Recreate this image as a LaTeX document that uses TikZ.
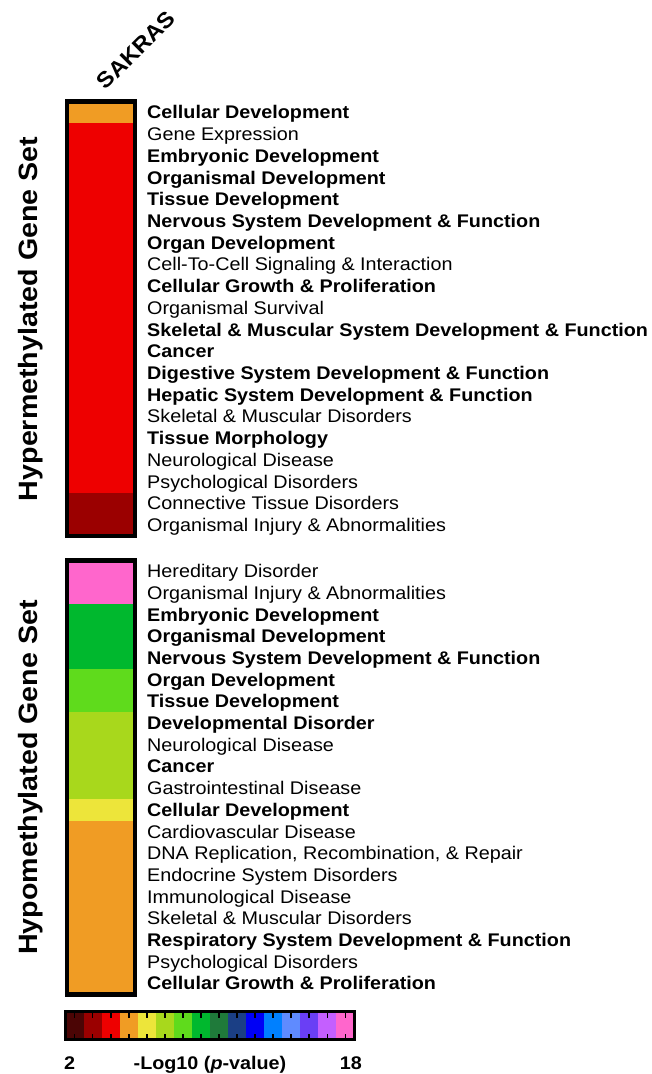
\documentclass[tikz,border=0pt]{standalone}
\usepackage{fontspec}
\setmainfont{Liberation Sans}[FakeStretch=1.08]
\usepackage{tikz}
\usetikzlibrary{calc,positioning}

\definecolor{v2}{HTML}{4B0505}
\definecolor{v3}{HTML}{9B0000}
\definecolor{v4}{HTML}{EE0000}
\definecolor{v5}{HTML}{F09C24}
\definecolor{v6}{HTML}{EDE53A}
\definecolor{v7}{HTML}{A8D81C}
\definecolor{v8}{HTML}{5FDB1C}
\definecolor{v9}{HTML}{00B82E}
\definecolor{v10}{HTML}{1F7A3A}
\definecolor{v11}{HTML}{1B3F85}
\definecolor{v12}{HTML}{0000F5}
\definecolor{v13}{HTML}{0080FF}
\definecolor{v14}{HTML}{5F8BFF}
\definecolor{v15}{HTML}{6A3FF5}
\definecolor{v16}{HTML}{C45FFF}
\definecolor{v17}{HTML}{FF66CC}
\newcommand{\lblfont}{\fontsize{18.3}{20}\selectfont}

\begin{document}
\begin{tikzpicture}[x=1pt,y=-1pt,
  cell/.style={inner sep=0pt,outer sep=0pt,minimum width=68pt,minimum height=21.72pt},
  lbl/.style={anchor=base west,inner sep=0pt,font=\lblfont},
  hl/.style={font=\lblfont\bfseries},
  pl/.style={},
  frame/.style={line width=4.5pt},
  setname/.style={font=\fontsize{26.5}{30}\selectfont\bfseries,rotate=90,anchor=base,inner sep=0pt},
  tick/.style={line width=1.8pt}]
\useasboundingbox (0,0) rectangle (651,1074);
% hypermethylated set
\foreach \i/\col/\sty/\txt in {1/v5/hl/{Cellular Development},2/v4/pl/{Gene Expression},
  3/v4/hl/{Embryonic Development},4/v4/hl/{Organismal Development},5/v4/hl/{Tissue Development},
  6/v4/hl/{Nervous System Development \& Function},7/v4/hl/{Organ Development},
  8/v4/pl/{Cell-To-Cell Signaling \& Interaction},9/v4/hl/{Cellular Growth \& Proliferation},
  10/v4/pl/{Organismal Survival},11/v4/hl/{Skeletal \& Muscular System Development \& Function},
  12/v4/hl/{Cancer},13/v4/hl/{Digestive System Development \& Function},
  14/v4/hl/{Hepatic System Development \& Function},15/v4/pl/{Skeletal \& Muscular Disorders},
  16/v4/hl/{Tissue Morphology},17/v4/pl/{Neurological Disease},18/v4/pl/{Psychological Disorders},
  19/v3/pl/{Connective Tissue Disorders},20/v3/pl/{Organismal Injury \& Abnormalities}}{
  \node[cell,fill=\col] (hy\i) at (101,{101.7+(\i-0.5)*21.72}) {};
  \node[lbl,\sty] (hyt\i) at ($(hy\i.east)+(12,6.3)$) {\txt};
}
\draw[frame] (hy1.north west) rectangle (hy20.south east);
\node[setname] (hyname) at (37,318.9) {Hypermethylated Gene Set};
% hypomethylated set
\foreach \i/\col/\sty/\txt in {1/v17/pl/{Hereditary Disorder},2/v17/pl/{Organismal Injury \& Abnormalities},
  3/v9/hl/{Embryonic Development},4/v9/hl/{Organismal Development},
  5/v9/hl/{Nervous System Development \& Function},6/v8/hl/{Organ Development},
  7/v8/hl/{Tissue Development},8/v7/hl/{Developmental Disorder},9/v7/pl/{Neurological Disease},
  10/v7/hl/{Cancer},11/v7/pl/{Gastrointestinal Disease},12/v6/hl/{Cellular Development},
  13/v5/pl/{Cardiovascular Disease},14/v5/pl/{DNA Replication, Recombination, \& Repair},
  15/v5/pl/{Endocrine System Disorders},16/v5/pl/{Immunological Disease},
  17/v5/pl/{Skeletal \& Muscular Disorders},18/v5/hl/{Respiratory System Development \& Function},
  19/v5/pl/{Psychological Disorders},20/v5/hl/{Cellular Growth \& Proliferation}}{
  \node[cell,fill=\col] (ho\i) at (101,{560.5+(\i-0.5)*21.7}) {};
  \node[lbl,\sty] (hot\i) at ($(ho\i.east)+(12,6.3)$) {\txt};
}
\draw[frame] (ho1.north west) rectangle (ho20.south east);
\node[setname] (honame) at (37,777.5) {Hypomethylated Gene Set};
% sample
\node[font=\fontsize{22}{24}\selectfont\bfseries,rotate=45] (sample) at (136,50) {SAKRAS};
% colour scale
\foreach \k/\col in {1/v2,2/v3,3/v4,4/v5,5/v6,6/v7,7/v8,8/v9,9/v10,10/v11,11/v12,12/v13,13/v14,14/v15,15/v16,16/v17}
  \node[cell,minimum width=18.1pt,minimum height=28pt,fill=\col] (cb\k) at ({65.5+(\k-0.5)*18.0625},1025.5) {};
\foreach \k in {1,...,16} {
  \draw[tick] (cb\k.north) -- ++(0,6);
  \draw[tick] (cb\k.south) -- ++(0,-6);
}
\draw[line width=3pt] (cb1.north west) rectangle (cb16.south east);
\node[lbl,hl] (lo) at (64,1069) {2};
\node[lbl,hl,anchor=base east] (hi) at (362,1069) {18};
\node[lbl,hl,anchor=base] (scale) at (210,1069) {-Log10 (\textit{p}-value)};
\end{tikzpicture}
\end{document}
